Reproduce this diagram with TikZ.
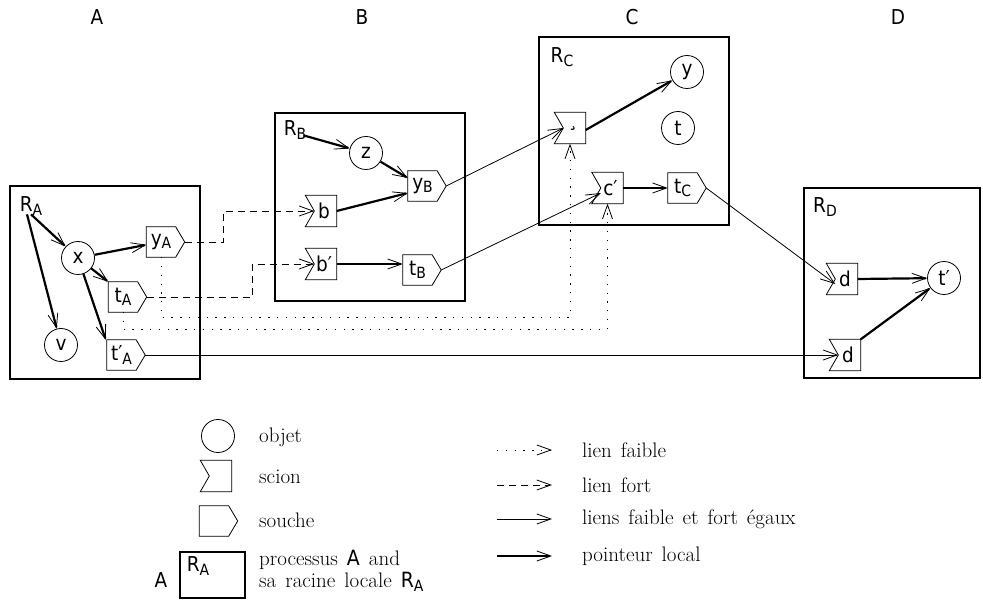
\documentclass[tikz,border=0pt]{standalone}
\usepackage{fontspec}
\newfontfamily\lab[FakeStretch=0.9]{DejaVu Sans}
\usetikzlibrary{arrows.meta,calc}
\newcommand{\sbs}[1]{\raisebox{-0.3ex}{\fontsize{15.5}{16}\selectfont #1}}
\newcommand{\legfont}{\fontsize{21}{24}\selectfont\spaceskip 9pt plus 1pt\relax}
\tikzset{
  tip/.style={-{Straight Barb[length=14pt,width=10pt,line width=0.8pt]}},
  ptr/.style={tip, line width=2.2pt},
  eqlink/.style={tip, line width=0.8pt},
  stronglink/.style={tip, line width=0.8pt, dash pattern=on 7pt off 5pt},
  weaklink/.style={tip, line width=0.9pt, dash pattern=on 1.3pt off 7.5pt},
  procbox/.style={draw, line width=2.2pt, inner sep=0},
  shapeline/.style={line width=0.8pt},
  lbl/.style={font=\lab\fontsize{20.5}{22}\selectfont, inner sep=1pt},
  obj/.style={draw, circle, line width=0.8pt, minimum size=33pt, inner sep=0, font=\lab\fontsize{20.5}{22}\selectfont},
  scionbody/.style={minimum width=31pt, minimum height=31pt, inner sep=0},
  souchebody/.style={minimum width=29pt, minimum height=30pt, inner sep=0, font=\lab\fontsize{20.5}{22}\selectfont},
  legtext/.style={anchor=west, inner sep=0, font=\legfont},
}
\newcommand{\mkscion}[4]{%
  \node[scionbody] (#1) at (#2,#3) {};
  \draw[shapeline] (#1.north west) -- (#1.north east) -- (#1.south east) -- (#1.south west) -- ($(#1.west)+(9pt,0)$) -- cycle;
  \coordinate (#1-in) at ($(#1.west)+(9pt,0)$);
  \node[lbl] (#1-t) at ($(#1.center)+(3pt,0)$) {#4};
}
\newcommand{\mksouche}[4]{%
  \node[souchebody] (#1) at (#2,#3) {#4};
  \draw[shapeline] (#1.north west) -- (#1.north east) -- ($(#1.east)+(9pt,0)$) -- (#1.south east) -- (#1.south west) -- cycle;
  \coordinate (#1-out) at ($(#1.east)+(9pt,0)$);
}
\begin{document}
\begin{tikzpicture}[x=1pt,y=-1pt]
\useasboundingbox (0,0) rectangle (983,601);

% column labels
\node[lbl] (LA) at (97,17) {A};
\node[lbl] (LB) at (362,17) {B};
\node[lbl] (LC) at (632,17) {C};
\node[lbl] (LD) at (898,17) {D};

% process boxes
\node[procbox, minimum width=190pt, minimum height=193pt] (PA) at (105,282.5) {};
\node[procbox, minimum width=190pt, minimum height=188pt] (PB) at (370,207) {};
\node[procbox, minimum width=190pt, minimum height=188pt] (PC) at (634,131) {};
\node[procbox, minimum width=176pt, minimum height=190pt] (PD) at (892,283) {};

% ---- A
\node[lbl] (ra) at (31,206) {R\sbs{A}};
\node[obj] (x) at (78,258) {x};
\node[obj] (v) at (61,345) {v};
\mksouche{yA}{161}{242}{y\sbs{A}}
\mksouche{tA}{123}{297}{t\sbs{A}}
\mksouche{tpA}{121.5}{355}{t′\sbs{A}}

% ---- B
\node[lbl] (rb) at (295,130) {R\sbs{B}};
\node[obj] (z) at (366,153) {z};
\mksouche{yB}{422.5}{186}{y\sbs{B}}
\mkscion{b}{321}{211}{b}
\mkscion{bp}{321}{264}{b′}
\mksouche{tB}{417.5}{270}{t\sbs{B}}

% ---- C
\node[lbl] (rc) at (562,57) {R\sbs{C}};
\node[obj] (y) at (687,72) {y};
\node[obj] (t) at (678,128) {t};
\mkscion{sc}{570}{128}{¸}
\mkscion{cp}{607.5}{188}{c′}
\mksouche{tC}{682.5}{188}{t\sbs{C}}

% ---- D
\node[lbl] (rd) at (825,207) {R\sbs{D}};
\mkscion{da}{842}{279}{d}
\node[obj] (tp) at (944,278) {t′};
\mkscion{db}{845}{355}{d}

% local pointers
\draw[ptr] ([xshift=0pt,yshift=2pt]ra.south) -- (x);
\draw[ptr] ([xshift=-4pt,yshift=2pt]ra.south) -- (v);
\draw[ptr] (x) -- (yA);
\draw[ptr] (x) -- (tA.north west);
\draw[ptr] (x) -- ([xshift=-1pt]tpA.north west);
\draw[ptr] ([xshift=-4pt,yshift=5pt]rb.south east) -- (z);
\draw[ptr] (z) -- ([yshift=8pt]yB.west);
\draw[ptr] (b.east) -- ([yshift=-7pt]yB.west);
\draw[ptr] (bp.east) -- (bp.east -| tB.west);
\draw[ptr] ([yshift=-2pt]sc.east) -- (y);
\draw[ptr] (cp.east) -- (tC.west);
\draw[ptr] (da.east) -- (tp);
\draw[ptr] (db.north east) -- (tp);

% equal links
\draw[eqlink] (yB-out) -- (sc-in);
\draw[eqlink] (tB-out) -- ([yshift=-5pt]cp-in);
\draw[eqlink] (tC-out) -- ([yshift=-5pt]da-in);
\draw[eqlink] (tpA-out) -- (db-in);

% strong links
\draw[stronglink] (yA-out) -- ++(39,0) |- (b-in);
\draw[stronglink] (tA-out) -- ++(106,0) |- (bp-in);

% weak links
\draw[weaklink] (yA.south) -- ++(0,60) -| (sc.south);
\draw[weaklink] (tA.south) -- ++(0,17) -| (cp.south);

% ---- legend
\node[obj] (lobj) at (218,436) {};
\node[legtext] (tobj) at (259,437) {objet};
\mkscion{lsc}{216}{476}{}
\node[legtext] (tsc) at (259,477) {scion};
\mksouche{lso}{214}{521}{}
\node[legtext] (tso) at (259,520) {souche};
\node[procbox, minimum width=65pt, minimum height=46pt] (lbox) at (212.5,575) {};
\node[lbl] (lra) at (198,566) {R\sbs{A}};
\node[lbl] (lA) at (161,580) {A};
\node[legtext] (tp1) at (259,560) {processus {\lab A} and};
\node[legtext] (tp2) at (259,582) {sa racine locale {\lab R\sbs{A}}};

\coordinate (w1) at (497,450); \coordinate (w2) at (552,450);
\coordinate (s1) at (497,485); \coordinate (s2) at (552,485);
\coordinate (e1) at (497,519); \coordinate (e2) at (552,519);
\coordinate (p1) at (497,556); \coordinate (p2) at (552,556);
\draw[weaklink] (w1) -- (w2);
\draw[stronglink] (s1) -- (s2);
\draw[eqlink] (e1) -- (e2);
\draw[ptr] (p1) -- (p2);
\node[legtext] (tw) at (582,450) {lien faible};
\node[legtext] (ts) at (582,485) {lien fort};
\node[legtext] (te) at (582,519) {liens faible et fort égaux};
\node[legtext] (tpl) at (582,556) {pointeur local};
\end{tikzpicture}
\end{document}
